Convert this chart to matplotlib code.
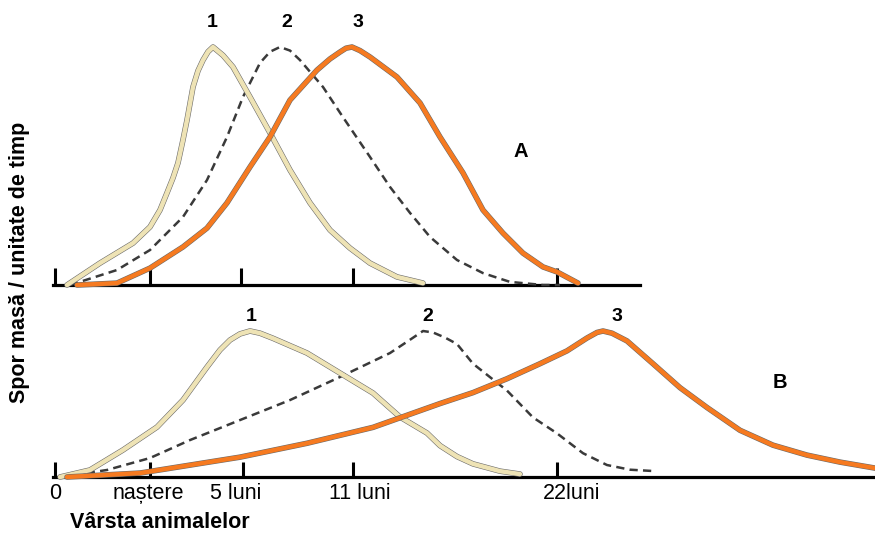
import matplotlib
matplotlib.use("Agg")
import matplotlib.pyplot as plt
import matplotlib.patheffects as pe

plt.rcParams['font.family'] = ['Liberation Sans', 'DejaVu Sans']

# x = position along the age axis (axis is not linear in age), y = growth relative to peak
# panel A
a1_x = [67, 100, 133, 150, 160, 167, 173, 178, 183, 187, 193, 198, 203, 208, 213, 223, 233, 250, 270, 290,
        310, 330, 350, 370, 397, 423]
a1_y = [0.0, 0.092, 0.176, 0.244, 0.315, 0.387, 0.450, 0.513, 0.610, 0.693, 0.832, 0.900, 0.945, 0.980,
        1.0, 0.965, 0.916, 0.790, 0.639, 0.483, 0.345, 0.231, 0.155, 0.092, 0.034, 0.008]
a2_x = [70, 117, 150, 183, 207, 227, 243, 260, 270, 280, 290, 300, 323, 343, 370, 390, 410, 430, 457, 483,
        510, 543, 560]
a2_y = [0.0, 0.063, 0.147, 0.286, 0.441, 0.622, 0.790, 0.933, 0.980, 1.0, 0.985, 0.945, 0.832, 0.705,
        0.538, 0.412, 0.303, 0.202, 0.105, 0.050, 0.013, 0.0, 0.0]
a3_x = [77, 117, 150, 183, 207, 227, 250, 270, 290, 317, 330, 340, 346, 352, 360, 370, 397, 420, 440, 463,
        483, 503, 523, 543, 557, 578]
a3_y = [0.0, 0.008, 0.071, 0.160, 0.239, 0.345, 0.496, 0.622, 0.777, 0.903, 0.950, 0.979, 0.995, 1.0,
        0.985, 0.958, 0.874, 0.765, 0.622, 0.471, 0.315, 0.218, 0.134, 0.076, 0.055, 0.008]

# panel B
b1_x = [60, 90, 123, 157, 183, 207, 220, 230, 240, 250, 260, 273, 307, 340, 373, 400, 427, 440, 457, 473,
        500, 520]
b1_y = [0.0, 0.048, 0.185, 0.342, 0.527, 0.753, 0.870, 0.938, 0.980, 1.0, 0.985, 0.950, 0.849, 0.712,
        0.575, 0.411, 0.301, 0.215, 0.140, 0.090, 0.040, 0.02]
b2_x = [60, 107, 150, 190, 240, 290, 340, 390, 410, 423, 433, 445, 457, 473, 507, 533, 557, 583, 607, 630,
        653]
b2_y = [0.0, 0.048, 0.130, 0.253, 0.390, 0.527, 0.685, 0.849, 0.940, 1.0, 0.990, 0.955, 0.911, 0.776,
        0.592, 0.408, 0.299, 0.163, 0.082, 0.050, 0.041]
b3_x = [67, 140, 240, 307, 373, 440, 473, 507, 540, 567, 587, 597, 603, 612, 627, 653, 680, 707, 740, 773,
        807, 840, 875]
b3_y = [0.0, 0.027, 0.136, 0.231, 0.340, 0.503, 0.578, 0.673, 0.776, 0.864, 0.952, 0.990, 1.0, 0.985,
        0.932, 0.776, 0.612, 0.476, 0.320, 0.218, 0.150, 0.102, 0.061]

ticks_a = [55, 150, 241, 353, 557]
ticks_b = [55, 150, 243, 353, 557]
tick_labels = ['0', 'naștere', '5 luni', '11 luni', '22luni']
tick_label_x = [55, 148, 236, 360, 572]

cream = '#EEE3B5'
orange = '#F67A20'
dash_col = '#3A3A3A'

fig = plt.figure(figsize=(8.75, 5.35), dpi=100)
W, H = 875.0, 535.0

# axes placed so their baseline / peak match the picture
axA = fig.add_axes([0, (H - 285) / H, 1, 238 / H])
axB = fig.add_axes([0, (H - 477) / H, 1, 146 / H])


def outline(lw):
    return [pe.Stroke(linewidth=lw + 0.8, foreground='#6a6a6a'), pe.Normal()]


def draw_panel(ax, x1, y1, x2, y2, x3, y3, ticks, span, ticklen):
    ax.set_xlim(0, W)
    ax.set_ylim(0, 1)
    ax.patch.set_visible(False)
    for s in ['top', 'right', 'left']:
        ax.spines[s].set_visible(False)
    ax.spines['bottom'].set_linewidth(2.3)
    ax.spines['bottom'].set_bounds(span[0], span[1])
    ax.set_yticks([])
    ax.set_xticks(ticks)
    ax.set_xticklabels([])
    ax.tick_params(axis='x', direction='in', length=ticklen, width=2.2, color='black')
    ax.plot(x2, y2, color=dash_col, lw=1.8, dashes=(3.3, 2.1), clip_on=False, zorder=3)
    ax.plot(x1, y1, color=cream, lw=3.2, clip_on=False, zorder=4, solid_joinstyle='round',
            solid_capstyle='round', path_effects=outline(3.2))
    ax.plot(x3, y3, color=orange, lw=3.2, clip_on=False, zorder=5, solid_joinstyle='round',
            solid_capstyle='round', path_effects=outline(3.2))


draw_panel(axA, a1_x, a1_y, a2_x, a2_y, a3_x, a3_y, ticks_a, (53, 640), 12)
draw_panel(axB, b1_x, b1_y, b2_x, b2_y, b3_x, b3_y, ticks_b, (53, 875), 11)

# curve numbers and panel letters
for x, t in zip([212, 287, 358], ['1', '2', '3']):
    axA.text(x, 1.105, t, ha='center', va='center', fontsize=14, fontweight='bold')
for x, t in zip([251, 428, 617], ['1', '2', '3']):
    axB.text(x, 1.10, t, ha='center', va='center', fontsize=14, fontweight='bold')
axA.text(521, 0.56, 'A', ha='center', va='center', fontsize=14.5, fontweight='bold')
axB.text(780, 0.645, 'B', ha='center', va='center', fontsize=14.5, fontweight='bold')

# tick labels under panel B
for x, t in zip(tick_label_x, tick_labels):
    axB.text(x, -0.11, t, ha='center', va='center', fontsize=15.5)

fig.text(70 / W, 1 - 522 / H, 'Vârsta animalelor', ha='left', va='center',
         fontsize=15.5, fontweight='bold')
fig.text(20 / W, 1 - 262 / H, 'Spor masă / unitate de timp', ha='center', va='center',
         rotation=90, fontsize=15.5, fontweight='bold')

fig.savefig('out.png', dpi=100)
